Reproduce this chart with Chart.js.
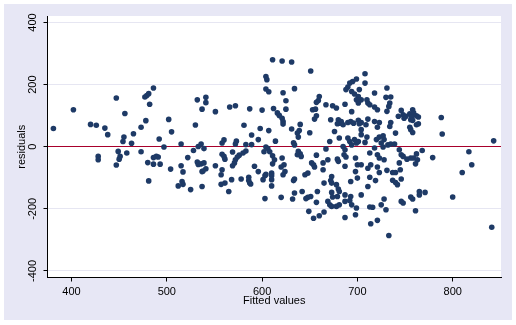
<!DOCTYPE html>
<html>
<head>
<meta charset="utf-8">
<script src="https://cdn.jsdelivr.net/npm/chart.js@4.4.0/dist/chart.umd.min.js"></script>
<style>
  html, body { margin: 0; padding: 0; background: #ffffff; }
  canvas { display: block; }
</style>
</head>
<body>
<canvas id="rvf" width="516" height="325"></canvas>
<script>
// Residual-versus-fitted scatter: fitted values on x, residuals on y.
const fitted = [
  381, 402, 420, 426, 435, 438, 447, 456, 455, 454, 428, 428, 449, 451, 450, 458, 447,
  486, 481, 479, 477, 482, 478, 473, 465, 463, 473, 480, 481, 486, 489, 491, 486, 493,
  492, 497, 502, 505, 504, 515, 515, 517, 516, 512, 517, 522, 525, 528, 530, 532, 537,
  533, 536, 539, 532, 533, 536, 539, 537, 537,
  611, 604, 605, 604, 607, 541, 541, 551, 566, 572, 587, 600, 612, 581, 598, 607, 589,
  596, 560, 558, 573, 572, 583, 589, 604, 606, 602, 608, 569, 558, 560, 561, 583, 580,
  576, 574, 572, 571, 569, 611, 611, 541, 538, 551, 558, 557, 592, 596, 601, 603, 604,
  610, 610, 610, 610, 568, 578, 586, 586, 587, 588, 557, 561, 565, 603,
  621, 631, 651, 634, 622, 625, 625, 616, 618, 621, 622, 622, 631, 640, 639, 637, 638,
  650, 614, 633, 634, 660, 659, 657, 653, 656, 657, 655, 667, 638, 640, 637, 641, 657,
  667, 613, 621, 623, 620, 624, 622, 652, 654, 655, 664, 664, 645, 648, 634, 633, 665,
  620, 634, 632, 642, 646, 648, 651, 658, 657, 649, 654, 660, 665,
  708, 699, 695, 692, 690, 688, 708, 694, 697, 702, 701, 699, 701, 704, 710, 711, 674,
  678, 687, 694, 672, 680, 681, 683, 685, 679, 690, 693, 696, 701, 702, 704, 709, 711,
  676, 681, 690, 692, 694, 697, 699, 701, 704, 704, 708, 710, 671, 685, 687, 686, 688,
  669, 679, 680, 687, 698, 700, 698, 700, 704, 711, 693, 673, 672, 673, 678, 680, 681,
  679, 673, 674, 687, 693, 692, 694, 669, 671, 673, 678, 681, 687, 699, 698, 704, 711, 687,
  731, 718, 730, 735, 734, 733, 731, 713, 718, 721, 746, 748, 743, 749, 755, 756, 751,
  718, 723, 721, 735, 734, 740, 755, 756, 720, 723, 727, 728, 725, 732, 735, 739, 718,
  727, 744, 746, 748, 752, 756, 713, 721, 723, 728, 744, 714, 721, 723, 731, 737, 740,
  745, 746, 713, 719, 737, 740, 742, 756, 728, 725, 730, 713, 716, 746, 748, 721, 714, 733,
  758, 759, 762, 764, 757, 758, 762, 764, 758, 788, 789, 843, 768, 762, 759, 763, 761,
  779, 817, 820, 810, 765, 765, 771, 758, 800, 761, 841
];
const resid = [
  59, 119, 72, 69, 60, 39, 157, 107, 31, 17, -31, -42, -15, -31, -40, -20, -59,
  189, 171, 165, 160, 137, 84, 63, 42, 11, -16, -51, -110, -35, -31, -33, -56, -56,
  25, -1, 88, 48, -72, 9, -61, -81, -112, -126, -121, -35, -138, -12, 70, 151, 121,
  1, 9, -6, -49, -57, -55, -52, -80, -128,
  280, 226, 216, 186, 177, 159, 142, 113, 128, 132, 122, 118, 123, 69, 59, 52, 38,
  23, 22, 12, 18, 9, 7, 7, -1, -6, -16, -16, -17, -24, -31, -40, -14, -20,
  -27, -33, -42, -52, -61, -29, -55, -71, -78, -61, -74, -90, -63, -80, -106, -93, -89,
  -85, -93, -106, -126, -106, -104, -98, -109, -117, -120, -121, -117, -144, -167,
  276, 273, 244, 187, 174, 148, 121, 109, 101, 92, 81, 73, 57, 72, 52, 44, 31,
  45, 18, 13, 6, 162, 149, 143, 119, 121, 100, 89, 135, -15, -23, -26, -31, -27,
  -7, -42, -36, -58, -65, -80, -90, -52, -58, -65, -52, -74, -90, -85, -104, -109, -117,
  -163, -149, -168, -144, -167, -163, -160, -144, -179, -208, -230, -222, -210,
  235, 218, 210, 205, 192, 184, 205, 178, 170, 184, 162, 151, 141, 151, 151, 141, 132,
  125, 137, 113, 87, 87, 76, 81, 71, 74, 78, 81, 76, 85, 74, 78, 71, 89,
  49, 28, 28, 17, 6, 23, 12, 17, 39, 55, 14, 31, 17, 1, -10, -26, -33,
  -42, -40, -47, -63, -36, -58, -80, -101, -58, -69, -112, -96, -109, -117, -122, -136, -144,
  -160, -147, -162, -155, -160, -173, -187, -176, -187, -192, -192, -187, -176, -197, -219, -155, -128, -228,
  189, 173, 159, 160, 141, 130, 114, 135, 128, 119, 117, 103, 98, 92, 106, 87, 98,
  81, 78, 63, 78, 65, 44, 63, 55, 23, 31, 35, 23, 12, 6, 9, 9, -4,
  -1, -10, -26, -31, -40, -36, -20, -26, -36, -42, -52, -58, -65, -83, -76, -83, -83,
  -74, -104, -98, -109, -108, -115, -122, -162, -168, -187, -203, -194, -195, -176, -181, -237, -248, -286,
  119, 109, 100, 96, 96, 85, 71, 74, 46, 94, 41, 19, -12, -23, -36, -42, -55,
  -35, -16, -58, -83, -144, -155, -147, -168, -162, -206, -259
];

const xTicks = [400, 500, 600, 700, 800];
const yTicks = [-400, -200, 0, 200, 400];
const xRange = [374.8, 850.7];
const yRange = [-421, 421];

const axisFont = { family: "'Liberation Sans', Arial, Helvetica, sans-serif", size: 11 };
const markerColor = '#1e3a66';
const gridColor = '#e6e6f2';
const zeroLineColor = '#a8002c';
const regionColor = '#e7e7f5';

// Lavender outer region with a white plot panel inside it.
const panels = {
  id: 'panels',
  beforeDraw(chart) {
    const { ctx, chartArea: a } = chart;
    ctx.save();
    ctx.fillStyle = regionColor;
    ctx.fillRect(4, 4, 508, 316);
    ctx.fillStyle = '#ffffff';
    ctx.fillRect(a.left, a.top, a.right - a.left, a.bottom - a.top);
    ctx.restore();
  }
};

new Chart(document.getElementById('rvf'), {
  type: 'scatter',
  data: {
    datasets: [{
      data: fitted.map((x, i) => ({ x: x, y: resid[i] })),
      pointRadius: 2.8,
      pointHoverRadius: 2.8,
      pointBackgroundColor: markerColor,
      pointBorderWidth: 0
    }]
  },
  options: {
    responsive: false,
    devicePixelRatio: 1,
    animation: false,
    events: [],
    layout: { padding: { left: 15, right: 15, top: 16, bottom: 17 } },
    plugins: { legend: { display: false }, tooltip: { enabled: false } },
    scales: {
      x: {
        type: 'linear',
        position: 'bottom',
        min: xRange[0],
        max: xRange[1],
        afterBuildTicks: s => { s.ticks = xTicks.map(v => ({ value: v })); },
        afterFit: s => { s.height = 30.5; },
        grid: { drawOnChartArea: false, drawTicks: true, tickLength: 4, tickColor: '#000', tickWidth: 1 },
        border: { display: true, color: '#000', width: 1 },
        ticks: { color: '#000', font: axisFont, padding: 4, maxRotation: 0, autoSkip: false, callback: v => String(v) },
        title: { display: true, text: 'Fitted values', color: '#000', font: axisFont, padding: { top: 0, bottom: 0 } }
      },
      y: {
        type: 'linear',
        position: 'left',
        min: yRange[0],
        max: yRange[1],
        afterBuildTicks: s => { s.ticks = yTicks.map(v => ({ value: v })); },
        afterFit: s => { s.width = 32.5; },
        grid: {
          drawOnChartArea: true,
          drawTicks: true,
          tickLength: 4,
          tickColor: '#000',
          tickWidth: 1,
          lineWidth: 1,
          color: c => (c.tick && c.tick.value === 0) ? zeroLineColor : gridColor
        },
        border: { display: true, color: '#000', width: 1 },
        ticks: {
          color: '#000', font: axisFont, padding: 0, autoSkip: false,
          minRotation: 90, maxRotation: 90, crossAlign: 'center',
          callback: v => String(v)
        },
        title: { display: true, text: 'residuals', color: '#000', font: axisFont, padding: { top: 0, bottom: 0 } }
      }
    }
  },
  plugins: [panels]
});
</script>
</body>
</html>
